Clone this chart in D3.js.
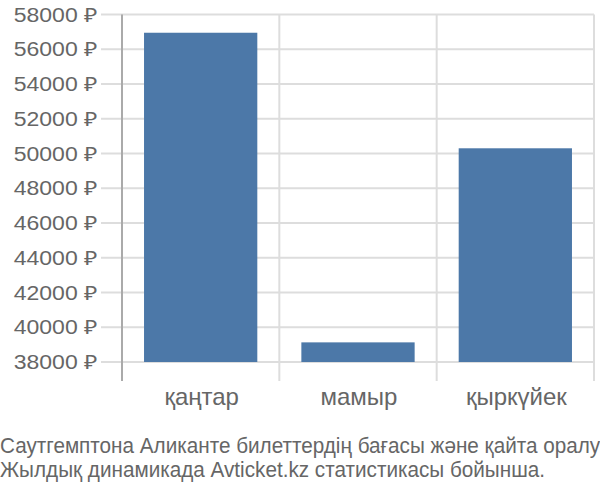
<!DOCTYPE html>
<html><head><meta charset="utf-8">
<script src="https://cdn.jsdelivr.net/npm/d3@7"></script>
<style>body{margin:0;background:#fff}svg{display:block}text{font-family:"Liberation Sans",Arial,sans-serif}</style>
</head><body>
<svg id="c" width="600" height="500"></svg>
<script>
const categories = ["қаңтар", "мамыр", "қыркүйек"];
const values = [56950, 39130, 50300];
const yTicks = [38000, 40000, 42000, 44000, 46000, 48000, 50000, 52000, 54000, 56000, 58000];
const captionLines = ["Саутгемптона Аликанте билеттердің бағасы және қайта оралу", "Жылдық динамикада Avticket.kz статистикасы бойынша."];

(function () {
const svg = d3.select("#c");
const pLeft = 122, pRight = 594, pTop = 14.5, pBase = 362, pBottom = 381;
const x = d3.scaleBand().domain(categories).range([pLeft, pRight]).paddingInner(0.28).paddingOuter(0.14);
const y = d3.scaleLinear().domain([38000, 58000]).range([pBase, pTop]);

// horizontal grid
svg.append("g").selectAll("line").data(yTicks).join("line")
  .attr("x1", 101).attr("x2", pRight).attr("y1", d => y(d)).attr("y2", d => y(d))
  .attr("stroke", "#dddddd").attr("stroke-width", 2);
// vertical grid at band boundaries
const step = x.step();
const bounds = categories.map((c, i) => pLeft + (i + 1) * step);
svg.append("g").selectAll("line").data(bounds).join("line")
  .attr("x1", d => d).attr("x2", d => d).attr("y1", pTop).attr("y2", pBottom)
  .attr("stroke", "#dddddd").attr("stroke-width", 2);

// bars
svg.append("g").selectAll("rect").data(values).join("rect")
  .attr("x", (d, i) => x(categories[i])).attr("width", x.bandwidth())
  .attr("y", d => y(d)).attr("height", d => y(38000) - y(d))
  .attr("fill", "#4c78a8");

// y axis line
svg.append("line").attr("x1", pLeft).attr("x2", pLeft).attr("y1", pTop).attr("y2", pBottom)
  .attr("stroke", "#aaaaaa").attr("stroke-width", 2);

// y labels (horizontally widened as in the reference)
svg.append("g").selectAll("text").data(yTicks).join("text")
  .attr("transform", d => `translate(97,${y(d)}) scale(1.18,1)`)
  .attr("dy", "0.36em").attr("text-anchor", "end")
  .attr("font-size", 19.5).attr("fill", "#666").text(d => d + " ₽");

// x labels
svg.append("g").selectAll("text").data(categories).join("text")
  .attr("x", d => x(d) + x.bandwidth() / 2 + 1).attr("y", 405).attr("text-anchor", "middle")
  .attr("font-size", 24).attr("fill", "#666").text(d => d);

// caption
svg.append("g").selectAll("text").data(captionLines).join("text")
  .attr("transform", (d, i) => `translate(0,${453 + i * 24}) scale(0.95,1)`)
  .attr("font-size", 21.8).attr("fill", "#666").text(d => d);
})();
</script>
</body></html>
